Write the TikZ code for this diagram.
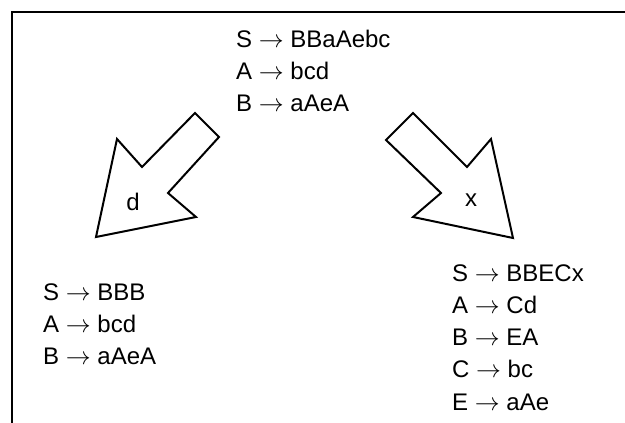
\documentclass[tikz,border=0pt]{standalone}
\usepackage{fontspec}
\setmainfont{Liberation Sans}
\usepackage{amsmath}
\usepackage{amssymb}

\tikzset{
  rule/.style={anchor=base west,inner sep=0pt,font=\fontsize{24}{32}\selectfont},
  blockarrow/.style={draw,line width=2pt,line join=miter}
}

\begin{document}
\begin{tikzpicture}[x=1pt,y=-1pt]

        \useasboundingbox (0,0) rectangle (625,423);
        \draw [line width=1.5pt](625,12) -- (12,12) -- (12,423);

        \node [rule] (topS) at (236,47) {S $\rightarrow$ BBaAebc};
        \node [rule] (topA) at (236,79) {A $\rightarrow$ bcd};
        \node [rule] (topB) at (236,111) {B $\rightarrow$ aAeA};

        \draw [blockarrow](195,113) -- (219,137) -- (168,193) -- (196,217)
            -- (96,237) -- (117,139) -- (142,167) -- cycle;
        \node [rule,anchor=center] (labd) at (133,202) {d};

        \draw [blockarrow](413,113) -- (467,167) -- (491,139) -- (513,238)
            -- (413,217) -- (441,193) -- (386,140) -- cycle;
        \node [rule,anchor=center] (labx) at (471,200) {x};

        \node [rule] (leftS) at (43,300) {S $\rightarrow$ BBB};
        \node [rule] (leftA) at (43,332) {A $\rightarrow$ bcd};
        \node [rule] (leftB) at (43,364) {B $\rightarrow$ aAeA};

        \node [rule] (rightS) at (452,281) {S $\rightarrow$ BBECx};
        \node [rule] (rightA) at (452,313) {A $\rightarrow$ Cd};
        \node [rule] (rightB) at (452,345) {B $\rightarrow$ EA};
        \node [rule] (rightC) at (452,377) {C $\rightarrow$ bc};
        \node [rule] (rightE) at (452,410) {E $\rightarrow$ aAe};
    \end{tikzpicture}
\end{document}
